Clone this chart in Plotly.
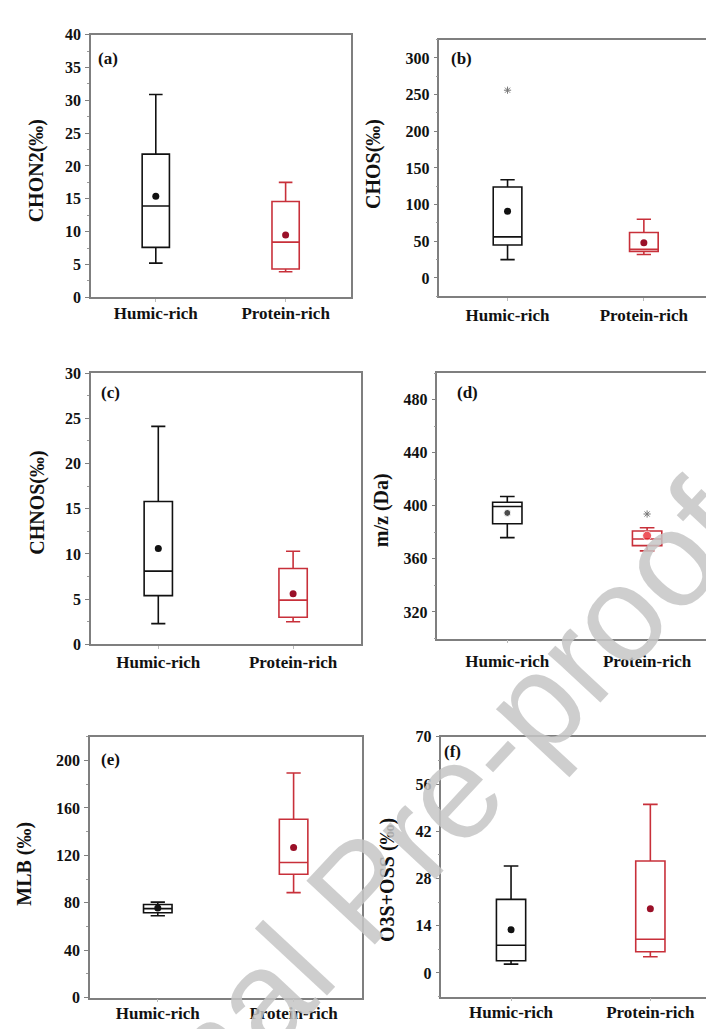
import plotly.graph_objects as go

W, H = 714, 1029

categories = ["Humic-rich", "Protein-rich"]

# Box statistics per panel: [Humic-rich, Protein-rich]
chon2_low = [5.2, 3.9]
chon2_q1 = [7.6, 4.3]
chon2_med = [13.9, 8.4]
chon2_q3 = [21.8, 14.6]
chon2_high = [30.9, 17.5]
chon2_mean = [15.4, 9.5]

chos_low = [25, 32]
chos_q1 = [45, 36]
chos_med = [56, 39]
chos_q3 = [124, 62]
chos_high = [134, 80]
chos_mean = [91, 48]
chos_outlier_cat = ["Humic-rich"]
chos_outlier_val = [256]

chnos_low = [2.3, 2.5]
chnos_q1 = [5.4, 3.0]
chnos_med = [8.1, 4.9]
chnos_q3 = [15.8, 8.4]
chnos_high = [24.1, 10.3]
chnos_mean = [10.6, 5.6]

mz_low = [376, 366]
mz_q1 = [386.5, 370]
mz_med = [399.5, 375]
mz_q3 = [402.7, 381]
mz_high = [407, 383.4]
mz_mean = [394.6, 377.5]
mz_outlier_cat = ["Protein-rich"]
mz_outlier_val = [393.8]

mlb_low = [69, 88.5]
mlb_q1 = [71.5, 104]
mlb_med = [75, 114]
mlb_q3 = [78.5, 150.5]
mlb_high = [80.5, 189.5]
mlb_mean = [75.5, 126.7]

o3s_low = [2.6, 4.8]
o3s_q1 = [3.6, 6.3]
o3s_med = [8.2, 10.0]
o3s_q3 = [21.8, 33.2]
o3s_high = [31.7, 50.0]
o3s_mean = [12.8, 19.0]

panel_labels = ["(a)", "(b)", "(c)", "(d)", "(e)", "(f)"]
y_titles = ["CHON2(‰)", "CHOS(‰)", "CHNOS(‰)", "m/z (Da)", "MLB (‰)", "O3S+OSS (‰)"]
y_ranges = [[0, 40], [-25, 325], [0, 30], [300, 500], [0, 220], [-7, 70]]
y_ticks = [
    [0, 5, 10, 15, 20, 25, 30, 35, 40],
    [0, 50, 100, 150, 200, 250, 300],
    [0, 5, 10, 15, 20, 25, 30],
    [320, 360, 400, 440, 480],
    [0, 40, 80, 120, 160, 200],
    [0, 14, 28, 42, 56, 70],
]
y_minor = [2.5, 25, 2.5, 20, 20, 7]

panels = [
    (chon2_low, chon2_q1, chon2_med, chon2_q3, chon2_high, chon2_mean, None, None),
    (chos_low, chos_q1, chos_med, chos_q3, chos_high, chos_mean, chos_outlier_cat, chos_outlier_val),
    (chnos_low, chnos_q1, chnos_med, chnos_q3, chnos_high, chnos_mean, None, None),
    (mz_low, mz_q1, mz_med, mz_q3, mz_high, mz_mean, mz_outlier_cat, mz_outlier_val),
    (mlb_low, mlb_q1, mlb_med, mlb_q3, mlb_high, mlb_mean, None, None),
    (o3s_low, o3s_q1, o3s_med, o3s_q3, o3s_high, o3s_mean, None, None),
]

# frame boxes in pixels: x0, x1, y0 (top), y1 (bottom)
frames = [
    (83, 343, 19, 286),
    (432, 705, 24, 285),
    (83, 353, 363, 639),
    (430, 710, 363, 633),
    (82, 354, 733, 998),
    (434, 713, 733, 997),
]
xlabel_standoff = [-3, 0, -2, 3, -4, -4]
label_pos = [(100, 43), (454, 43), (103, 383), (460, 383), (103, 756), (445, 748)]
title_pos = [(28, 157), (366, 150), (30, 495), (374, 502), (17, 862), (380, 878)]

box_colors = ["#111111", "#c8303a"]
mean_colors = ["#111111", "#9a1028"]
mean_colors_d = ["#000000", "#e8101a"]

SERIF = "Liberation Serif"

fig = go.Figure()
layout = dict(
    width=W, height=H,
    margin=dict(l=0, r=0, t=0, b=0),
    paper_bgcolor="white", plot_bgcolor="white",
    showlegend=False,
    annotations=[],
)

for i, (lo, q1, med, q3, hi, mn, ocat, oval) in enumerate(panels):
    n = i + 1
    xa = "x" if n == 1 else f"x{n}"
    ya = "y" if n == 1 else f"y{n}"
    for j, cat in enumerate(categories):
        fig.add_trace(go.Box(
            x=[cat], q1=[q1[j]], median=[med[j]], q3=[q3[j]],
            lowerfence=[lo[j]], upperfence=[hi[j]],
            width=0.21, whiskerwidth=0.5,
            line=dict(color=box_colors[j], width=1.6),
            fillcolor="rgba(255,255,255,0)",
            boxpoints=False, hoverinfo="skip",
            xaxis=xa, yaxis=ya,
        ))
    mc = mean_colors_d if n == 4 else mean_colors
    fig.add_trace(go.Scatter(
        x=categories, y=mn, mode="markers",
        marker=dict(color=mc, size=[7, 9] if n == 4 else 7, symbol="circle"),
        xaxis=xa, yaxis=ya, hoverinfo="skip",
    ))
    if ocat is not None:
        fig.add_trace(go.Scatter(
            x=ocat, y=oval, mode="markers",
            marker=dict(color="#777777", size=6, symbol="asterisk-open",
                        line=dict(color="#777777", width=1)),
            xaxis=xa, yaxis=ya, hoverinfo="skip",
        ))

    x0, x1, y0, y1 = frames[i]
    xkey = "xaxis" if n == 1 else f"xaxis{n}"
    ykey = "yaxis" if n == 1 else f"yaxis{n}"
    layout[xkey] = dict(
        domain=[x0 / W, x1 / W], anchor=ya,
        type="category", categoryorder="array", categoryarray=categories,
        range=[-0.5, 1.5],
        showline=True, mirror=True, linecolor="#7f7f7f", linewidth=1.6,
        ticks="outside", ticklen=3, tickcolor="#bbbbbb", tickwidth=1,
        ticklabelstandoff=xlabel_standoff[i],
        tickfont=dict(family=SERIF, size=17, color="#111111", weight="bold"),
        showgrid=False, zeroline=False, fixedrange=True,
    )
    layout[ykey] = dict(
        domain=[1 - y1 / H, 1 - y0 / H], anchor=xa,
        range=y_ranges[i], tickmode="array", tickvals=y_ticks[i],
        showline=True, mirror=True, linecolor="#7f7f7f", linewidth=1.6,
        ticks="outside", ticklen=4, tickcolor="#7f7f7f", tickwidth=1.2,
        minor=dict(dtick=y_minor[i], ticks="outside", ticklen=2,
                   tickcolor="#9a9a9a", tickwidth=1),
        tickfont=dict(family=SERIF, size=16, color="#111111", weight="bold"),
        ticklabelstandoff=1,
        showgrid=False, zeroline=False, fixedrange=True,
    )
    lx, ly = label_pos[i]
    layout["annotations"].append(dict(
        text=panel_labels[i], x=lx / W, y=1 - ly / H, xref="paper", yref="paper",
        showarrow=False, xanchor="center", yanchor="middle",
        font=dict(family=SERIF, size=17, color="#111111", weight="bold"),
    ))
    tx, ty = title_pos[i]
    layout["annotations"].append(dict(
        text=y_titles[i], x=tx / W, y=1 - ty / H, xref="paper", yref="paper",
        showarrow=False, xanchor="center", yanchor="middle", textangle=-90,
        font=dict(family=SERIF, size=20, color="#111111", weight="bold"),
    ))

# publisher watermark
layout["annotations"].append(dict(
    text="Journal Pre-proof", x=354 / W, y=1 - 889 / H, xref="paper", yref="paper",
    showarrow=False, xanchor="center", yanchor="middle", textangle=-47,
    font=dict(family="Liberation Sans", size=136, color="rgba(198,198,198,0.85)"),
))

fig.update_layout(**layout)
fig.write_html("out.html")
